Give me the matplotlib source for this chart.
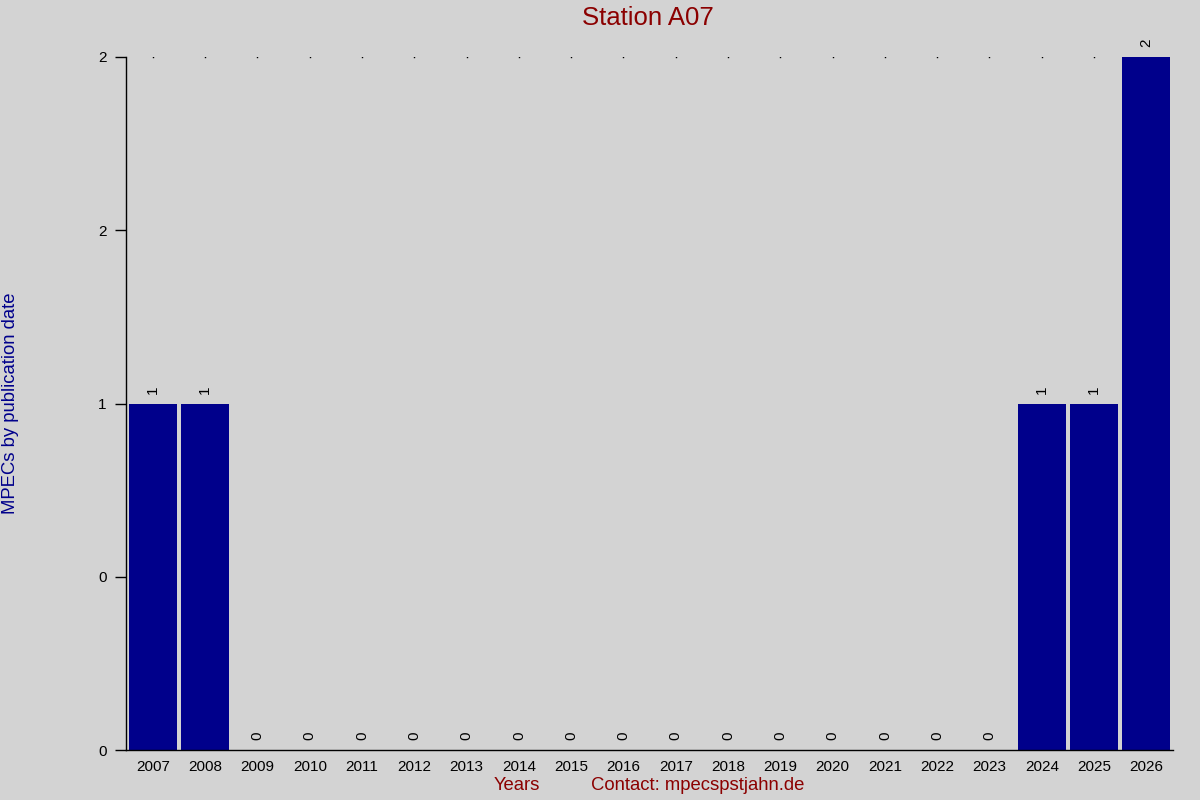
import matplotlib
matplotlib.use("Agg")
import matplotlib.pyplot as plt
import numpy as np

plt.rcParams['font.family'] = ['Liberation Sans', 'DejaVu Sans']

years = [str(y) for y in range(2007, 2027)]
counts = [1, 1, 0, 0, 0, 0, 0, 0, 0, 0, 0, 0, 0, 0, 0, 0, 0, 1, 1, 2]
ytick_vals = [0, 0.5, 1, 1.5, 2]
ytick_labels = ['0', '0', '1', '2', '2']

bg = '#D3D3D3'
fig = plt.figure(figsize=(12, 8), dpi=100, facecolor=bg)
ax = fig.add_axes([0.105, 0.0625, 0.9775 - 0.105, 0.92875 - 0.0625])
ax.set_facecolor(bg)

x = np.arange(len(years))
ax.bar(x, counts, width=0.92, color='#00008B', zorder=2)
ax.plot(x, [2] * len(x), linestyle='none', marker='s', markersize=1.0,
        markeredgewidth=0, color='black', zorder=1)

for xi, c in zip(x, counts):
    ax.annotate(str(c), (xi, c), xytext=(0, 7), textcoords='offset points',
                rotation=90, ha='center', va='bottom', fontsize=11,
                color='black', annotation_clip=False)

ax.set_xlim(-0.515, len(years) - 1 + 0.51)
ax.set_ylim(0, 2)
ax.set_xticks(x)
ax.set_xticklabels(years, fontsize=11)
ax.set_yticks(ytick_vals)
ax.set_yticklabels(ytick_labels, fontsize=11)
ax.tick_params(axis='x', length=0, pad=7)
ax.tick_params(axis='y', length=8, width=1, pad=6)

for s in ['top', 'right']:
    ax.spines[s].set_visible(False)
for s in ['left', 'bottom']:
    ax.spines[s].set_color('black')
    ax.spines[s].set_linewidth(1)

fig.text(0.54, 0.978, 'Station A07', ha='center', va='center',
         fontsize=18.5, color='#8B0000')
fig.text(0.0085, 0.496, 'MPECs by publication date', rotation=90,
         ha='center', va='center', fontsize=13.3, color='#00008B')
fig.text(517 / 1200, 1 - 786 / 800, 'Years', ha='center', va='center',
         fontsize=13.3, color='#8B0000')
fig.text(698 / 1200, 1 - 786 / 800, 'Contact: mpecspstjahn.de', ha='center',
         va='center', fontsize=13.3, color='#8B0000')

fig.savefig('out.png', dpi=100, facecolor=bg)
